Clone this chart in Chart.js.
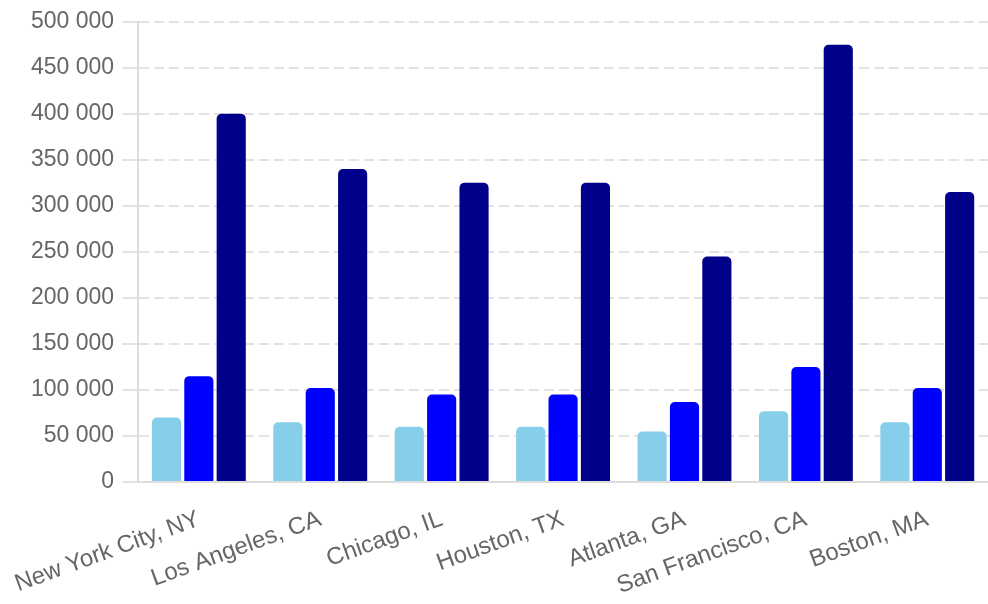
<!DOCTYPE html>
<html>
<head>
<meta charset="utf-8">
<script src="https://cdn.jsdelivr.net/npm/chart.js@4"></script>
<style>
  html, body { margin: 0; padding: 0; background: #fff; }
  #wrap { width: 988px; height: 604px; }
</style>
</head>
<body>
<div id="wrap"><canvas id="chart"></canvas></div>
<script>
// Data
const cities = ["New York City, NY", "Los Angeles, CA", "Chicago, IL", "Houston, TX", "Atlanta, GA", "San Francisco, CA", "Boston, MA"];
const lowValues = [70000, 65000, 60000, 60000, 55000, 77000, 65000];
const midValues = [115000, 102000, 95000, 95000, 87000, 125000, 102000];
const highValues = [400000, 340000, 325000, 325000, 245000, 475000, 315000];
const yMax = 500000;
const yStep = 50000;

// thousands grouped with a space, e.g. "500 000"
const fmt = (v) => String(v).replace(/\B(?=(\d{3})+(?!\d))/g, " ");

const family = "'Liberation Sans', Arial, Helvetica, sans-serif";

new Chart(document.getElementById("chart"), {
  type: "bar",
  data: {
    labels: cities,
    datasets: [
      { label: "Low", data: lowValues, backgroundColor: "#87ceeb", borderRadius: 5 },
      { label: "Mid", data: midValues, backgroundColor: "#0000ff", borderRadius: 5 },
      { label: "High", data: highValues, backgroundColor: "#00008b", borderRadius: 5 },
    ],
  },
  options: {
    responsive: true,
    maintainAspectRatio: false,
    animation: false,
    layout: { padding: { top: 6, left: 23 } },
    plugins: {
      legend: { display: false },
      tooltip: { enabled: false },
    },
    scales: {
      x: {
        grid: { display: false },
        border: { color: "#dddddd", width: 2 },
        ticks: { color: "#666666", font: { family, size: 24 }, padding: 15, minRotation: 20, maxRotation: 20, autoSkip: false },
        // keep the rotated first label from pushing the plot area right
        afterFit: (scale) => {
          scale.paddingLeft = 0;
          scale.paddingRight = 0;
          scale.height = 122;
        },
      },
      y: {
        min: 0,
        max: yMax,
        grid: { color: "#e2e2e2", tickColor: "#e2e2e2", tickLength: 16, lineWidth: 2 },
        border: { color: "#dddddd", width: 2, dash: [10, 5] },
        ticks: {
          stepSize: yStep,
          color: "#666666",
          font: { family, size: 23 },
          padding: 8,
          callback: (v) => fmt(v),
        },
      },
    },
  },
});
</script>
</body>
</html>
